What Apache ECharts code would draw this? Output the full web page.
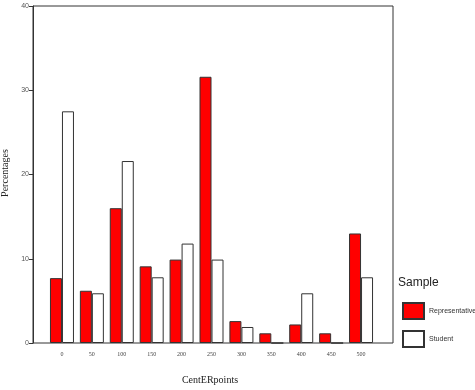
<!DOCTYPE html>
<html>
<head>
<meta charset="utf-8">
<script src="https://cdn.jsdelivr.net/npm/echarts@6/dist/echarts.min.js"></script>
<style>
  html, body { margin: 0; padding: 0; background: #fff; }
  #chart { width: 475px; height: 390px; }
</style>
</head>
<body>
<div id="chart"></div>
<script>
// categories on the x axis (CentERpoints)
const categories = ['0', '50', '100', '150', '200', '250', '300', '350', '400', '450', '500']
// percentages per sample
const representative = [7.7, 6.2, 16.0, 9.1, 9.9, 31.6, 2.6, 1.15, 2.2, 1.15, 13.0]
const student = [27.5, 5.9, 21.6, 7.8, 11.8, 9.9, 1.9, 0, 5.9, 0, 7.8]
const yTicks = [0, 10, 20, 30, 40]

const chart = echarts.init(document.getElementById('chart'))

const option = {
  animation: false,
  grid: [
    // frame + y axis
    { left: 33, top: 6, width: 360, height: 337, show: true, borderColor: '#333', borderWidth: 1, backgroundColor: 'transparent' },
    // bars
    { left: 47, top: 6, width: 329, height: 337 }
  ],
  xAxis: [
    { gridIndex: 0, type: 'value', show: false, min: 0, max: 1 },
    {
      gridIndex: 1,
      type: 'category',
      data: categories,
      axisLine: { show: false },
      axisTick: { show: false },
      axisLabel: { fontFamily: 'Liberation Serif', fontSize: 6, color: '#444', margin: 8 }
    }
  ],
  yAxis: [
    {
      gridIndex: 0,
      type: 'value',
      min: yTicks[0],
      max: yTicks[yTicks.length - 1],
      interval: 10,
      axisLine: { show: true, lineStyle: { color: '#333', width: 1 } },
      axisTick: { show: true, length: 4, lineStyle: { color: '#333' } },
      axisLabel: { fontFamily: 'Liberation Sans', fontSize: 7, color: '#555', margin: 4 },
      splitLine: { show: false }
    },
    { gridIndex: 1, type: 'value', min: 0, max: 40, show: false }
  ],
  legend: {
    orient: 'vertical',
    left: 402,
    top: 302,
    padding: 0,
    itemWidth: 21,
    itemHeight: 16,
    itemGap: 10,
    icon: 'rect',
    textStyle: { fontFamily: 'Liberation Sans', fontSize: 7, color: '#333', padding: [3, 0, 0, 0], width: 60, overflow: 'none' },
    data: ['Representative', 'Student']
  },
  graphic: [
    {
      type: 'text', left: 398, top: 277,
      style: { text: 'Sample', font: '12px "Liberation Sans"', fill: '#222' }
    },
    {
      type: 'text', x: 5, y: 173, rotation: Math.PI / 2,
      style: { text: 'Percentages', font: '10px "Liberation Serif"', fill: '#222', align: 'center', verticalAlign: 'middle' }
    },
    {
      type: 'text', x: 210, y: 380,
      style: { text: 'CentERpoints', font: '10px "Liberation Serif"', fill: '#222', align: 'center', verticalAlign: 'middle' }
    }
  ],
  series: [
    {
      name: 'Representative',
      type: 'bar',
      xAxisIndex: 1,
      yAxisIndex: 1,
      data: representative,
      barWidth: 12,
      barGap: '0%',
      itemStyle: { color: '#ff0000', borderColor: '#333', borderWidth: 1 }
    },
    {
      name: 'Student',
      type: 'bar',
      xAxisIndex: 1,
      yAxisIndex: 1,
      data: student,
      barWidth: 12,
      barGap: '0%',
      itemStyle: { color: '#ffffff', borderColor: '#333', borderWidth: 1 }
    }
  ]
}

chart.setOption(option)
</script>
</body>
</html>
